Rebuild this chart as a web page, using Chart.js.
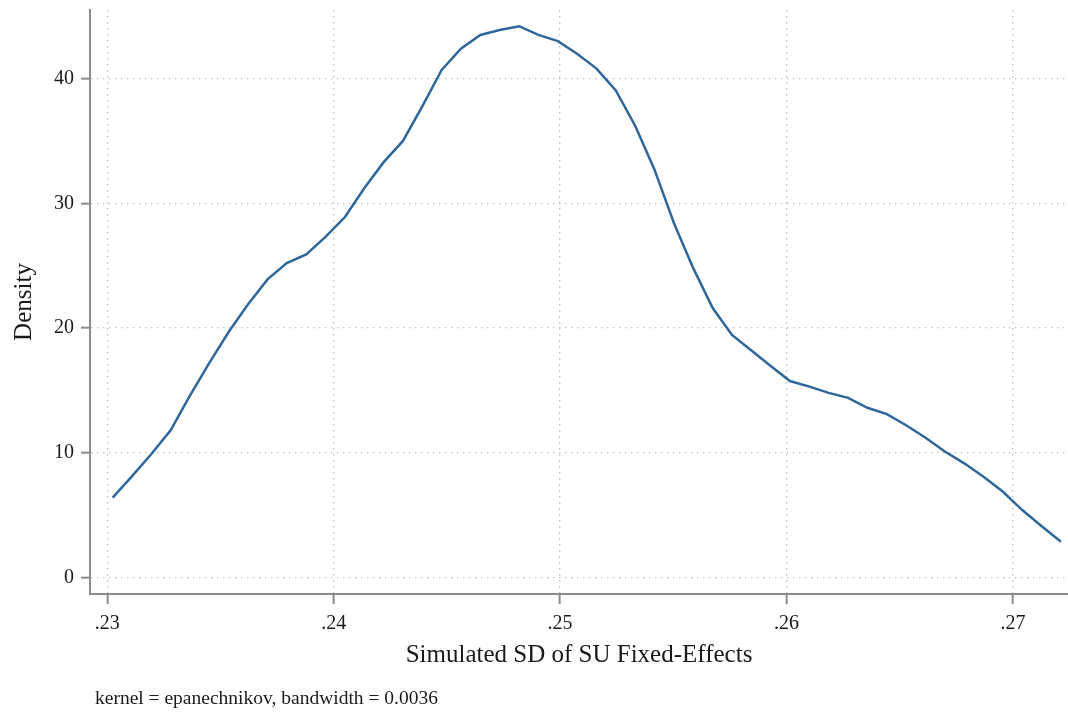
<!DOCTYPE html>
<html lang="en">
<head>
  <meta charset="UTF-8">
  <title>Kernel density: simulated SD of SU fixed-effects</title>
  <style>
    body {
      margin: 0;
      background-color: #fff;
    }
    .chart-box {
      width: 1068px;
      height: 713px;
      position: relative;
    }
  </style>
</head>
<body>

  <div class="chart-box">
    <canvas id="densityChart"></canvas>
  </div>

  <script src="https://cdn.jsdelivr.net/npm/chart.js"></script>
  <script>
    // Evaluation points of the kernel density estimate
    const sdValues = [
      0.23024, 0.23109, 0.23195, 0.23280, 0.23366, 0.23451, 0.23537, 0.23622, 0.23708, 0.23793,
      0.23879, 0.23964, 0.24050, 0.24135, 0.24221, 0.24306, 0.24392, 0.24477, 0.24562, 0.24648,
      0.24733, 0.24819, 0.24904, 0.24990, 0.25075, 0.25161, 0.25246, 0.25332, 0.25417, 0.25503,
      0.25588, 0.25674, 0.25759, 0.25845, 0.25930, 0.26015, 0.26101, 0.26186, 0.26272, 0.26357,
      0.26443, 0.26528, 0.26614, 0.26699, 0.26785, 0.26870, 0.26956, 0.27041, 0.27127, 0.27212
    ];

    // Estimated density at each point
    const densityValues = [
      6.4, 8.1, 9.9, 11.8, 14.6, 17.2, 19.7, 21.9, 23.9, 25.2,
      25.9, 27.3, 28.9, 31.2, 33.3, 35.0, 37.8, 40.7, 42.4, 43.5,
      43.9, 44.2, 43.5, 43.0, 42.0, 40.8, 39.05, 36.2, 32.7, 28.4,
      24.8, 21.6, 19.45, 18.2, 16.96, 15.75, 15.3, 14.8, 14.4, 13.6,
      13.1, 12.2, 11.2, 10.1, 9.15, 8.07, 6.87, 5.4, 4.1, 2.86
    ];

    const xTickValues = [0.23, 0.24, 0.25, 0.26, 0.27];
    const xTickLabels = ['.23', '.24', '.25', '.26', '.27'];
    const yTickValues = [0, 10, 20, 30, 40];
    const yTickLabels = ['0', '10', '20', '30', '40'];

    const serif = '"Liberation Serif", "Times New Roman", serif';
    const axisGray = '#8c8c8c';
    const gridGray = '#bdbdbd';

    const points = sdValues.map((x, i) => ({ x: x, y: densityValues[i] }));

    // Footnote under the x-axis title
    const notePlugin = {
      id: 'kernelNote',
      afterDraw(chart) {
        const ctx = chart.ctx;
        ctx.save();
        ctx.font = '19.5px ' + serif;
        ctx.fillStyle = '#1a1a1a';
        ctx.textAlign = 'left';
        ctx.textBaseline = 'alphabetic';
        ctx.fillText('kernel = epanechnikov, bandwidth = 0.0036', 95, 704);
        ctx.restore();
      }
    };

    const ctx = document.getElementById('densityChart').getContext('2d');
    new Chart(ctx, {
      type: 'line',
      data: {
        datasets: [{
          data: points,
          borderColor: '#30679a',
          borderWidth: 2.5,
          pointRadius: 0,
          tension: 0,
          fill: false
        }]
      },
      options: {
        responsive: true,
        maintainAspectRatio: false,
        animation: false,
        layout: { padding: { left: 0, right: 0, top: 10, bottom: 43 } },
        plugins: {
          legend: { display: false },
          tooltip: { enabled: false }
        },
        scales: {
          x: {
            type: 'linear',
            min: 0.22924,
            max: 0.27243,
            afterBuildTicks: (scale) => {
              scale.ticks = xTickValues.map(v => ({ value: v }));
            },
            afterFit: (scale) => {
              scale.height = 76;
              scale.paddingLeft = 0;
              scale.paddingRight = 0;
            },
            ticks: {
              autoSkip: false,
              maxRotation: 0,
              padding: 8,
              color: '#1a1a1a',
              font: { family: serif, size: 20 },
              callback: (value, index) => xTickLabels[index]
            },
            grid: {
              color: gridGray,
              lineWidth: 1.3,
              tickLength: 10,
              tickColor: axisGray,
              tickWidth: 2,
              tickBorderDash: []
            },
            border: { color: axisGray, width: 2, dash: [1.4, 4.6] },
            title: {
              display: true,
              text: 'Simulated SD of SU Fixed-Effects',
              color: '#1a1a1a',
              font: { family: serif, size: 25 },
              padding: { top: 0, bottom: 0 }
            }
          },
          y: {
            type: 'linear',
            min: -1.33,
            max: 45.5,
            afterBuildTicks: (scale) => {
              scale.ticks = yTickValues.map(v => ({ value: v }));
            },
            afterFit: (scale) => {
              scale.width = 90;
              scale.paddingTop = 0;
              scale.paddingBottom = 0;
            },
            ticks: {
              padding: 7,
              color: '#1a1a1a',
              font: { family: serif, size: 20 },
              callback: (value, index) => yTickLabels[index]
            },
            grid: {
              color: gridGray,
              lineWidth: 1.3,
              tickLength: 9,
              tickColor: axisGray,
              tickWidth: 2,
              tickBorderDash: []
            },
            border: { color: axisGray, width: 2, dash: [1.4, 4.6] },
            title: {
              display: true,
              text: 'Density',
              color: '#1a1a1a',
              font: { family: serif, size: 25 },
              padding: { top: 9, bottom: 0 }
            }
          }
        }
      },
      plugins: [notePlugin]
    });
  </script>

</body>
</html>
